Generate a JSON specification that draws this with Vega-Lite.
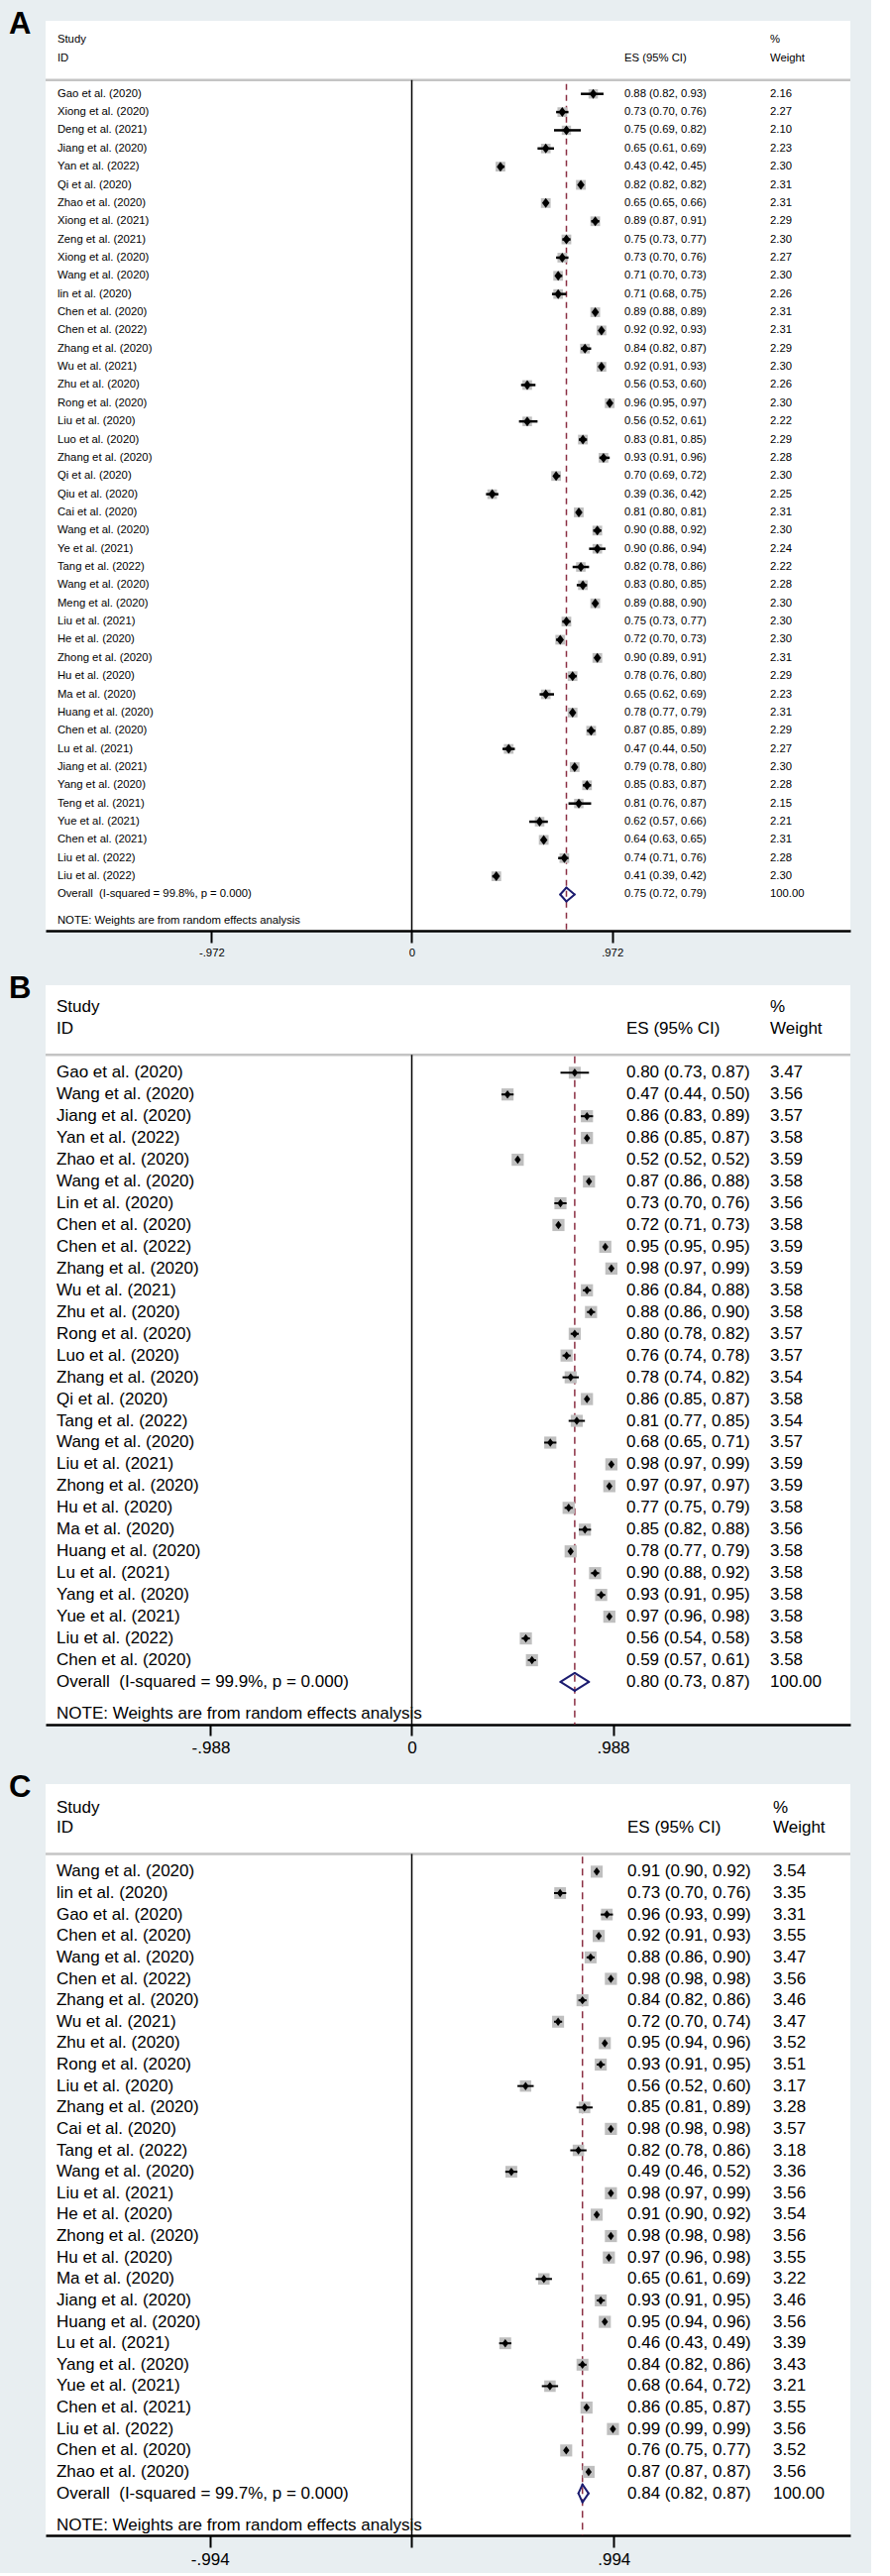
{
  "$schema": "https://vega.github.io/schema/vega-lite/v6.json",
  "background": "#e8eef1",
  "padding": {"left": 9, "top": 9, "right": 19, "bottom": 6},
  "bounds": "flush",
  "spacing": 55,
  "datasets": {
    "A": [
      {"row":0,"kind":"s","study":"Gao et al. (2020)","es":0.88,"lo":0.82,"hi":0.93,"w":2.16,"ci":"0.88 (0.82, 0.93)"},
      {"row":1,"kind":"s","study":"Xiong et al. (2020)","es":0.73,"lo":0.70,"hi":0.76,"w":2.27,"ci":"0.73 (0.70, 0.76)"},
      {"row":2,"kind":"s","study":"Deng et al. (2021)","es":0.75,"lo":0.69,"hi":0.82,"w":2.10,"ci":"0.75 (0.69, 0.82)"},
      {"row":3,"kind":"s","study":"Jiang et al. (2020)","es":0.65,"lo":0.61,"hi":0.69,"w":2.23,"ci":"0.65 (0.61, 0.69)"},
      {"row":4,"kind":"s","study":"Yan et al. (2022)","es":0.43,"lo":0.42,"hi":0.45,"w":2.30,"ci":"0.43 (0.42, 0.45)"},
      {"row":5,"kind":"s","study":"Qi et al. (2020)","es":0.82,"lo":0.82,"hi":0.82,"w":2.31,"ci":"0.82 (0.82, 0.82)"},
      {"row":6,"kind":"s","study":"Zhao et al. (2020)","es":0.65,"lo":0.65,"hi":0.66,"w":2.31,"ci":"0.65 (0.65, 0.66)"},
      {"row":7,"kind":"s","study":"Xiong et al. (2021)","es":0.89,"lo":0.87,"hi":0.91,"w":2.29,"ci":"0.89 (0.87, 0.91)"},
      {"row":8,"kind":"s","study":"Zeng et al. (2021)","es":0.75,"lo":0.73,"hi":0.77,"w":2.30,"ci":"0.75 (0.73, 0.77)"},
      {"row":9,"kind":"s","study":"Xiong et al. (2020)","es":0.73,"lo":0.70,"hi":0.76,"w":2.27,"ci":"0.73 (0.70, 0.76)"},
      {"row":10,"kind":"s","study":"Wang et al. (2020)","es":0.71,"lo":0.70,"hi":0.73,"w":2.30,"ci":"0.71 (0.70, 0.73)"},
      {"row":11,"kind":"s","study":"lin et al. (2020)","es":0.71,"lo":0.68,"hi":0.75,"w":2.26,"ci":"0.71 (0.68, 0.75)"},
      {"row":12,"kind":"s","study":"Chen et al. (2020)","es":0.89,"lo":0.88,"hi":0.89,"w":2.31,"ci":"0.89 (0.88, 0.89)"},
      {"row":13,"kind":"s","study":"Chen et al. (2022)","es":0.92,"lo":0.92,"hi":0.93,"w":2.31,"ci":"0.92 (0.92, 0.93)"},
      {"row":14,"kind":"s","study":"Zhang et al. (2020)","es":0.84,"lo":0.82,"hi":0.87,"w":2.29,"ci":"0.84 (0.82, 0.87)"},
      {"row":15,"kind":"s","study":"Wu et al. (2021)","es":0.92,"lo":0.91,"hi":0.93,"w":2.30,"ci":"0.92 (0.91, 0.93)"},
      {"row":16,"kind":"s","study":"Zhu et al. (2020)","es":0.56,"lo":0.53,"hi":0.60,"w":2.26,"ci":"0.56 (0.53, 0.60)"},
      {"row":17,"kind":"s","study":"Rong et al. (2020)","es":0.96,"lo":0.95,"hi":0.97,"w":2.30,"ci":"0.96 (0.95, 0.97)"},
      {"row":18,"kind":"s","study":"Liu et al. (2020)","es":0.56,"lo":0.52,"hi":0.61,"w":2.22,"ci":"0.56 (0.52, 0.61)"},
      {"row":19,"kind":"s","study":"Luo et al. (2020)","es":0.83,"lo":0.81,"hi":0.85,"w":2.29,"ci":"0.83 (0.81, 0.85)"},
      {"row":20,"kind":"s","study":"Zhang et al. (2020)","es":0.93,"lo":0.91,"hi":0.96,"w":2.28,"ci":"0.93 (0.91, 0.96)"},
      {"row":21,"kind":"s","study":"Qi et al. (2020)","es":0.70,"lo":0.69,"hi":0.72,"w":2.30,"ci":"0.70 (0.69, 0.72)"},
      {"row":22,"kind":"s","study":"Qiu et al. (2020)","es":0.39,"lo":0.36,"hi":0.42,"w":2.25,"ci":"0.39 (0.36, 0.42)"},
      {"row":23,"kind":"s","study":"Cai et al. (2020)","es":0.81,"lo":0.80,"hi":0.81,"w":2.31,"ci":"0.81 (0.80, 0.81)"},
      {"row":24,"kind":"s","study":"Wang et al. (2020)","es":0.90,"lo":0.88,"hi":0.92,"w":2.30,"ci":"0.90 (0.88, 0.92)"},
      {"row":25,"kind":"s","study":"Ye et al. (2021)","es":0.90,"lo":0.86,"hi":0.94,"w":2.24,"ci":"0.90 (0.86, 0.94)"},
      {"row":26,"kind":"s","study":"Tang et al. (2022)","es":0.82,"lo":0.78,"hi":0.86,"w":2.22,"ci":"0.82 (0.78, 0.86)"},
      {"row":27,"kind":"s","study":"Wang et al. (2020)","es":0.83,"lo":0.80,"hi":0.85,"w":2.28,"ci":"0.83 (0.80, 0.85)"},
      {"row":28,"kind":"s","study":"Meng et al. (2020)","es":0.89,"lo":0.88,"hi":0.90,"w":2.30,"ci":"0.89 (0.88, 0.90)"},
      {"row":29,"kind":"s","study":"Liu et al. (2021)","es":0.75,"lo":0.73,"hi":0.77,"w":2.30,"ci":"0.75 (0.73, 0.77)"},
      {"row":30,"kind":"s","study":"He et al. (2020)","es":0.72,"lo":0.70,"hi":0.73,"w":2.30,"ci":"0.72 (0.70, 0.73)"},
      {"row":31,"kind":"s","study":"Zhong et al. (2020)","es":0.90,"lo":0.89,"hi":0.91,"w":2.31,"ci":"0.90 (0.89, 0.91)"},
      {"row":32,"kind":"s","study":"Hu et al. (2020)","es":0.78,"lo":0.76,"hi":0.80,"w":2.29,"ci":"0.78 (0.76, 0.80)"},
      {"row":33,"kind":"s","study":"Ma et al. (2020)","es":0.65,"lo":0.62,"hi":0.69,"w":2.23,"ci":"0.65 (0.62, 0.69)"},
      {"row":34,"kind":"s","study":"Huang et al. (2020)","es":0.78,"lo":0.77,"hi":0.79,"w":2.31,"ci":"0.78 (0.77, 0.79)"},
      {"row":35,"kind":"s","study":"Chen et al. (2020)","es":0.87,"lo":0.85,"hi":0.89,"w":2.29,"ci":"0.87 (0.85, 0.89)"},
      {"row":36,"kind":"s","study":"Lu et al. (2021)","es":0.47,"lo":0.44,"hi":0.50,"w":2.27,"ci":"0.47 (0.44, 0.50)"},
      {"row":37,"kind":"s","study":"Jiang et al. (2021)","es":0.79,"lo":0.78,"hi":0.80,"w":2.30,"ci":"0.79 (0.78, 0.80)"},
      {"row":38,"kind":"s","study":"Yang et al. (2020)","es":0.85,"lo":0.83,"hi":0.87,"w":2.28,"ci":"0.85 (0.83, 0.87)"},
      {"row":39,"kind":"s","study":"Teng et al. (2021)","es":0.81,"lo":0.76,"hi":0.87,"w":2.15,"ci":"0.81 (0.76, 0.87)"},
      {"row":40,"kind":"s","study":"Yue et al. (2021)","es":0.62,"lo":0.57,"hi":0.66,"w":2.21,"ci":"0.62 (0.57, 0.66)"},
      {"row":41,"kind":"s","study":"Chen et al. (2021)","es":0.64,"lo":0.63,"hi":0.65,"w":2.31,"ci":"0.64 (0.63, 0.65)"},
      {"row":42,"kind":"s","study":"Liu et al. (2022)","es":0.74,"lo":0.71,"hi":0.76,"w":2.28,"ci":"0.74 (0.71, 0.76)"},
      {"row":43,"kind":"s","study":"Liu et al. (2022)","es":0.41,"lo":0.39,"hi":0.42,"w":2.30,"ci":"0.41 (0.39, 0.42)"},
      {"row":44,"kind":"o","study":"Overall\u00a0 (I-squared = 99.8%, p = 0.000)","es":0.75,"lo":0.72,"hi":0.79,"w":100,"ci":"0.75 (0.72, 0.79)"}
    ],
    "B": [
      {"row":0,"kind":"s","study":"Gao et al. (2020)","es":0.80,"lo":0.73,"hi":0.87,"w":3.47,"ci":"0.80 (0.73, 0.87)"},
      {"row":1,"kind":"s","study":"Wang et al. (2020)","es":0.47,"lo":0.44,"hi":0.50,"w":3.56,"ci":"0.47 (0.44, 0.50)"},
      {"row":2,"kind":"s","study":"Jiang et al. (2020)","es":0.86,"lo":0.83,"hi":0.89,"w":3.57,"ci":"0.86 (0.83, 0.89)"},
      {"row":3,"kind":"s","study":"Yan et al. (2022)","es":0.86,"lo":0.85,"hi":0.87,"w":3.58,"ci":"0.86 (0.85, 0.87)"},
      {"row":4,"kind":"s","study":"Zhao et al. (2020)","es":0.52,"lo":0.52,"hi":0.52,"w":3.59,"ci":"0.52 (0.52, 0.52)"},
      {"row":5,"kind":"s","study":"Wang et al. (2020)","es":0.87,"lo":0.86,"hi":0.88,"w":3.58,"ci":"0.87 (0.86, 0.88)"},
      {"row":6,"kind":"s","study":"Lin et al. (2020)","es":0.73,"lo":0.70,"hi":0.76,"w":3.56,"ci":"0.73 (0.70, 0.76)"},
      {"row":7,"kind":"s","study":"Chen et al. (2020)","es":0.72,"lo":0.71,"hi":0.73,"w":3.58,"ci":"0.72 (0.71, 0.73)"},
      {"row":8,"kind":"s","study":"Chen et al. (2022)","es":0.95,"lo":0.95,"hi":0.95,"w":3.59,"ci":"0.95 (0.95, 0.95)"},
      {"row":9,"kind":"s","study":"Zhang et al. (2020)","es":0.98,"lo":0.97,"hi":0.99,"w":3.59,"ci":"0.98 (0.97, 0.99)"},
      {"row":10,"kind":"s","study":"Wu et al. (2021)","es":0.86,"lo":0.84,"hi":0.88,"w":3.58,"ci":"0.86 (0.84, 0.88)"},
      {"row":11,"kind":"s","study":"Zhu et al. (2020)","es":0.88,"lo":0.86,"hi":0.90,"w":3.58,"ci":"0.88 (0.86, 0.90)"},
      {"row":12,"kind":"s","study":"Rong et al. (2020)","es":0.80,"lo":0.78,"hi":0.82,"w":3.57,"ci":"0.80 (0.78, 0.82)"},
      {"row":13,"kind":"s","study":"Luo et al. (2020)","es":0.76,"lo":0.74,"hi":0.78,"w":3.57,"ci":"0.76 (0.74, 0.78)"},
      {"row":14,"kind":"s","study":"Zhang et al. (2020)","es":0.78,"lo":0.74,"hi":0.82,"w":3.54,"ci":"0.78 (0.74, 0.82)"},
      {"row":15,"kind":"s","study":"Qi et al. (2020)","es":0.86,"lo":0.85,"hi":0.87,"w":3.58,"ci":"0.86 (0.85, 0.87)"},
      {"row":16,"kind":"s","study":"Tang et al. (2022)","es":0.81,"lo":0.77,"hi":0.85,"w":3.54,"ci":"0.81 (0.77, 0.85)"},
      {"row":17,"kind":"s","study":"Wang et al. (2020)","es":0.68,"lo":0.65,"hi":0.71,"w":3.57,"ci":"0.68 (0.65, 0.71)"},
      {"row":18,"kind":"s","study":"Liu et al. (2021)","es":0.98,"lo":0.97,"hi":0.99,"w":3.59,"ci":"0.98 (0.97, 0.99)"},
      {"row":19,"kind":"s","study":"Zhong et al. (2020)","es":0.97,"lo":0.97,"hi":0.97,"w":3.59,"ci":"0.97 (0.97, 0.97)"},
      {"row":20,"kind":"s","study":"Hu et al. (2020)","es":0.77,"lo":0.75,"hi":0.79,"w":3.58,"ci":"0.77 (0.75, 0.79)"},
      {"row":21,"kind":"s","study":"Ma et al. (2020)","es":0.85,"lo":0.82,"hi":0.88,"w":3.56,"ci":"0.85 (0.82, 0.88)"},
      {"row":22,"kind":"s","study":"Huang et al. (2020)","es":0.78,"lo":0.77,"hi":0.79,"w":3.58,"ci":"0.78 (0.77, 0.79)"},
      {"row":23,"kind":"s","study":"Lu et al. (2021)","es":0.90,"lo":0.88,"hi":0.92,"w":3.58,"ci":"0.90 (0.88, 0.92)"},
      {"row":24,"kind":"s","study":"Yang et al. (2020)","es":0.93,"lo":0.91,"hi":0.95,"w":3.58,"ci":"0.93 (0.91, 0.95)"},
      {"row":25,"kind":"s","study":"Yue et al. (2021)","es":0.97,"lo":0.96,"hi":0.98,"w":3.58,"ci":"0.97 (0.96, 0.98)"},
      {"row":26,"kind":"s","study":"Liu et al. (2022)","es":0.56,"lo":0.54,"hi":0.58,"w":3.58,"ci":"0.56 (0.54, 0.58)"},
      {"row":27,"kind":"s","study":"Chen et al. (2020)","es":0.59,"lo":0.57,"hi":0.61,"w":3.58,"ci":"0.59 (0.57, 0.61)"},
      {"row":28,"kind":"o","study":"Overall\u00a0 (I-squared = 99.9%, p = 0.000)","es":0.80,"lo":0.73,"hi":0.87,"w":100,"ci":"0.80 (0.73, 0.87)"}
    ],
    "C": [
      {"row":0,"kind":"s","study":"Wang et al. (2020)","es":0.91,"lo":0.90,"hi":0.92,"w":3.54,"ci":"0.91 (0.90, 0.92)"},
      {"row":1,"kind":"s","study":"lin et al. (2020)","es":0.73,"lo":0.70,"hi":0.76,"w":3.35,"ci":"0.73 (0.70, 0.76)"},
      {"row":2,"kind":"s","study":"Gao et al. (2020)","es":0.96,"lo":0.93,"hi":0.99,"w":3.31,"ci":"0.96 (0.93, 0.99)"},
      {"row":3,"kind":"s","study":"Chen et al. (2020)","es":0.92,"lo":0.91,"hi":0.93,"w":3.55,"ci":"0.92 (0.91, 0.93)"},
      {"row":4,"kind":"s","study":"Wang et al. (2020)","es":0.88,"lo":0.86,"hi":0.90,"w":3.47,"ci":"0.88 (0.86, 0.90)"},
      {"row":5,"kind":"s","study":"Chen et al. (2022)","es":0.98,"lo":0.98,"hi":0.98,"w":3.56,"ci":"0.98 (0.98, 0.98)"},
      {"row":6,"kind":"s","study":"Zhang et al. (2020)","es":0.84,"lo":0.82,"hi":0.86,"w":3.46,"ci":"0.84 (0.82, 0.86)"},
      {"row":7,"kind":"s","study":"Wu et al. (2021)","es":0.72,"lo":0.70,"hi":0.74,"w":3.47,"ci":"0.72 (0.70, 0.74)"},
      {"row":8,"kind":"s","study":"Zhu et al. (2020)","es":0.95,"lo":0.94,"hi":0.96,"w":3.52,"ci":"0.95 (0.94, 0.96)"},
      {"row":9,"kind":"s","study":"Rong et al. (2020)","es":0.93,"lo":0.91,"hi":0.95,"w":3.51,"ci":"0.93 (0.91, 0.95)"},
      {"row":10,"kind":"s","study":"Liu et al. (2020)","es":0.56,"lo":0.52,"hi":0.60,"w":3.17,"ci":"0.56 (0.52, 0.60)"},
      {"row":11,"kind":"s","study":"Zhang et al. (2020)","es":0.85,"lo":0.81,"hi":0.89,"w":3.28,"ci":"0.85 (0.81, 0.89)"},
      {"row":12,"kind":"s","study":"Cai et al. (2020)","es":0.98,"lo":0.98,"hi":0.98,"w":3.57,"ci":"0.98 (0.98, 0.98)"},
      {"row":13,"kind":"s","study":"Tang et al. (2022)","es":0.82,"lo":0.78,"hi":0.86,"w":3.18,"ci":"0.82 (0.78, 0.86)"},
      {"row":14,"kind":"s","study":"Wang et al. (2020)","es":0.49,"lo":0.46,"hi":0.52,"w":3.36,"ci":"0.49 (0.46, 0.52)"},
      {"row":15,"kind":"s","study":"Liu et al. (2021)","es":0.98,"lo":0.97,"hi":0.99,"w":3.56,"ci":"0.98 (0.97, 0.99)"},
      {"row":16,"kind":"s","study":"He et al. (2020)","es":0.91,"lo":0.90,"hi":0.92,"w":3.54,"ci":"0.91 (0.90, 0.92)"},
      {"row":17,"kind":"s","study":"Zhong et al. (2020)","es":0.98,"lo":0.98,"hi":0.98,"w":3.56,"ci":"0.98 (0.98, 0.98)"},
      {"row":18,"kind":"s","study":"Hu et al. (2020)","es":0.97,"lo":0.96,"hi":0.98,"w":3.55,"ci":"0.97 (0.96, 0.98)"},
      {"row":19,"kind":"s","study":"Ma et al. (2020)","es":0.65,"lo":0.61,"hi":0.69,"w":3.22,"ci":"0.65 (0.61, 0.69)"},
      {"row":20,"kind":"s","study":"Jiang et al. (2020)","es":0.93,"lo":0.91,"hi":0.95,"w":3.46,"ci":"0.93 (0.91, 0.95)"},
      {"row":21,"kind":"s","study":"Huang et al. (2020)","es":0.95,"lo":0.94,"hi":0.96,"w":3.56,"ci":"0.95 (0.94, 0.96)"},
      {"row":22,"kind":"s","study":"Lu et al. (2021)","es":0.46,"lo":0.43,"hi":0.49,"w":3.39,"ci":"0.46 (0.43, 0.49)"},
      {"row":23,"kind":"s","study":"Yang et al. (2020)","es":0.84,"lo":0.82,"hi":0.86,"w":3.43,"ci":"0.84 (0.82, 0.86)"},
      {"row":24,"kind":"s","study":"Yue et al. (2021)","es":0.68,"lo":0.64,"hi":0.72,"w":3.21,"ci":"0.68 (0.64, 0.72)"},
      {"row":25,"kind":"s","study":"Chen et al. (2021)","es":0.86,"lo":0.85,"hi":0.87,"w":3.55,"ci":"0.86 (0.85, 0.87)"},
      {"row":26,"kind":"s","study":"Liu et al. (2022)","es":0.99,"lo":0.99,"hi":0.99,"w":3.56,"ci":"0.99 (0.99, 0.99)"},
      {"row":27,"kind":"s","study":"Chen et al. (2020)","es":0.76,"lo":0.75,"hi":0.77,"w":3.52,"ci":"0.76 (0.75, 0.77)"},
      {"row":28,"kind":"s","study":"Zhao et al. (2020)","es":0.87,"lo":0.87,"hi":0.87,"w":3.56,"ci":"0.87 (0.87, 0.87)"},
      {"row":29,"kind":"o","study":"Overall\u00a0 (I-squared = 99.7%, p = 0.000)","es":0.84,"lo":0.82,"hi":0.87,"w":100,"ci":"0.84 (0.82, 0.87)"}
    ]
  },
  "vconcat": [
    {
      "width": 812, "height": 918,
      "title": {"text": "A", "anchor": "start", "frame": "group", "baseline": "top", "dx": -37, "dy": 20, "offset": 0, "fontSize": 31, "fontWeight": "bold", "color": "black"},
      "data": {"name": "A"},
      "layer": [
        {"data": {"values": [{}]}, "mark": {"type": "rule", "color": "#c4c4c4", "strokeWidth": 2.5},
         "encoding": {"y": {"datum": -0.763, "type": "quantitative", "scale": {"domain": [-4.016, 45.99], "reverse": true, "nice": false, "zero": false}, "axis": null}}},
        {"data": {"values": [{}]}, "mark": {"type": "rule", "color": "black", "strokeWidth": 1.5},
         "encoding": {"x": {"datum": 0, "type": "quantitative", "scale": {"domain": [-1.7764, 2.1274], "nice": false, "zero": false},
            "axis": {"values": [-0.972, 0, 0.972], "labelExpr": "datum.value < 0 ? '-.972' : (datum.value > 0 ? '.972' : '0')", "title": null, "grid": false, "domainColor": "black", "domainWidth": 2.5, "tickColor": "black", "tickWidth": 2, "tickSize": 12, "labelFontSize": 11.3, "labelColor": "black", "labelPadding": 4, "labelFlush": false, "labelOverlap": false}},
           "y": {"datum": -0.763, "axis": null}, "y2": {"datum": 45.99}}},
        {"transform": [{"filter": "datum.kind == 'o'"}], "mark": {"type": "rule", "color": "#8b2f43", "strokeWidth": 1.5, "strokeDash": [6, 5]},
         "encoding": {"x": {"field": "es", "type": "quantitative"}, "y": {"datum": -0.55, "axis": null}, "y2": {"datum": 45.99}}},
        {"transform": [{"filter": "datum.kind == 's'"}], "mark": {"type": "point", "shape": "square", "filled": true, "color": "#bfbfbf", "opacity": 1},
         "encoding": {"x": {"field": "es", "type": "quantitative"}, "y": {"field": "row", "type": "quantitative", "axis": null},
           "size": {"field": "w", "type": "quantitative", "scale": {"domain": [0, 2.31], "range": [0, 150]}, "legend": null}}},
        {"transform": [{"filter": "datum.kind == 's'"}], "mark": {"type": "rule", "color": "black", "strokeWidth": 2.5},
         "encoding": {"x": {"field": "lo", "type": "quantitative"}, "x2": {"field": "hi"}, "y": {"field": "row", "type": "quantitative", "axis": null}}},
        {"transform": [{"filter": "datum.kind == 's'"}], "mark": {"type": "point", "shape": "M-0.75,0L0,-1L0.75,0L0,1Z", "filled": true, "color": "black", "opacity": 1, "size": 100},
         "encoding": {"x": {"field": "es", "type": "quantitative"}, "y": {"field": "row", "type": "quantitative", "axis": null}}},
        {"transform": [{"filter": "datum.kind == 'o'"}], "mark": {"type": "rule", "color": "#1c1c70", "strokeWidth": 2, "strokeCap": "round", "y2Offset": -7},
         "encoding": {"x": {"field": "lo", "type": "quantitative"}, "x2": {"field": "es"}, "y": {"field": "row", "type": "quantitative", "axis": null}, "y2": {"field": "row"}}},
        {"transform": [{"filter": "datum.kind == 'o'"}], "mark": {"type": "rule", "color": "#1c1c70", "strokeWidth": 2, "strokeCap": "round", "y2Offset": 7},
         "encoding": {"x": {"field": "lo", "type": "quantitative"}, "x2": {"field": "es"}, "y": {"field": "row", "type": "quantitative", "axis": null}, "y2": {"field": "row"}}},
        {"transform": [{"filter": "datum.kind == 'o'"}], "mark": {"type": "rule", "color": "#1c1c70", "strokeWidth": 2, "strokeCap": "round", "yOffset": -7},
         "encoding": {"x": {"field": "es", "type": "quantitative"}, "x2": {"field": "hi"}, "y": {"field": "row", "type": "quantitative", "axis": null}, "y2": {"field": "row"}}},
        {"transform": [{"filter": "datum.kind == 'o'"}], "mark": {"type": "rule", "color": "#1c1c70", "strokeWidth": 2, "strokeCap": "round", "yOffset": 7},
         "encoding": {"x": {"field": "es", "type": "quantitative"}, "x2": {"field": "hi"}, "y": {"field": "row", "type": "quantitative", "axis": null}, "y2": {"field": "row"}}},
        {"mark": {"type": "text", "align": "left", "baseline": "middle", "fontSize": 11.3},
         "encoding": {"x": {"datum": -1.719}, "y": {"field": "row", "type": "quantitative", "axis": null}, "text": {"field": "study"}}},
        {"mark": {"type": "text", "align": "left", "baseline": "middle", "fontSize": 11.3},
         "encoding": {"x": {"datum": 1.031}, "y": {"field": "row", "type": "quantitative", "axis": null}, "text": {"field": "ci"}}},
        {"mark": {"type": "text", "align": "left", "baseline": "middle", "fontSize": 11.3},
         "encoding": {"x": {"datum": 1.738}, "y": {"field": "row", "type": "quantitative", "axis": null}, "text": {"field": "w", "type": "quantitative", "format": ".2f"}}},
        {"data": {"values": [{}]}, "mark": {"type": "text", "text": "Study", "align": "left", "baseline": "middle", "fontSize": 11.3},
         "encoding": {"x": {"datum": -1.719}, "y": {"datum": -3.0, "axis": null}}},
        {"data": {"values": [{}]}, "mark": {"type": "text", "text": "ID", "align": "left", "baseline": "middle", "fontSize": 11.3},
         "encoding": {"x": {"datum": -1.719}, "y": {"datum": -1.96, "axis": null}}},
        {"data": {"values": [{}]}, "mark": {"type": "text", "text": "ES (95% CI)", "align": "left", "baseline": "middle", "fontSize": 11.3},
         "encoding": {"x": {"datum": 1.031}, "y": {"datum": -1.96, "axis": null}}},
        {"data": {"values": [{}]}, "mark": {"type": "text", "text": "%", "align": "left", "baseline": "middle", "fontSize": 11.3},
         "encoding": {"x": {"datum": 1.738}, "y": {"datum": -3.0, "axis": null}}},
        {"data": {"values": [{}]}, "mark": {"type": "text", "text": "Weight", "align": "left", "baseline": "middle", "fontSize": 11.3},
         "encoding": {"x": {"datum": 1.738}, "y": {"datum": -1.96, "axis": null}}},
        {"data": {"values": [{}]}, "mark": {"type": "text", "text": "NOTE: Weights are from random effects analysis", "align": "left", "baseline": "middle", "fontSize": 11.3},
         "encoding": {"x": {"datum": -1.719}, "y": {"datum": 45.47, "axis": null}}}
      ]
    },
    {
      "bounds": "flush",
      "spacing": 60,
      "vconcat": [
        {
          "width": 812, "height": 746,
          "title": {"text": "B", "anchor": "start", "frame": "group", "baseline": "top", "dx": -37, "dy": 20, "offset": 0, "fontSize": 31, "fontWeight": "bold", "color": "black"},
          "data": {"name": "B"},
          "layer": [
            {"data": {"values": [{}]}, "mark": {"type": "rule", "color": "#c4c4c4", "strokeWidth": 2.5},
             "encoding": {"y": {"datum": -0.82, "type": "quantitative", "scale": {"domain": [-4.021, 29.96], "reverse": true, "nice": false, "zero": false}, "axis": null}}},
            {"data": {"values": [{}]}, "mark": {"type": "rule", "color": "black", "strokeWidth": 1.5},
             "encoding": {"x": {"datum": 0, "type": "quantitative", "scale": {"domain": [-1.798, 2.1533], "nice": false, "zero": false},
                "axis": {"values": [-0.988, 0, 0.988], "labelExpr": "datum.value < 0 ? '-.988' : (datum.value > 0 ? '.988' : '0')", "title": null, "grid": false, "domainColor": "black", "domainWidth": 2.5, "tickColor": "black", "tickWidth": 2, "tickSize": 11, "labelFontSize": 17, "labelColor": "black", "labelPadding": 4, "labelFlush": false, "labelOverlap": false}},
               "y": {"datum": -0.82, "axis": null}, "y2": {"datum": 29.96}}},
            {"transform": [{"filter": "datum.kind == 'o'"}], "mark": {"type": "rule", "color": "#8b2f43", "strokeWidth": 1.5, "strokeDash": [7, 5]},
             "encoding": {"x": {"field": "es", "type": "quantitative"}, "y": {"datum": -0.75, "axis": null}, "y2": {"datum": 29.96}}},
            {"transform": [{"filter": "datum.kind == 's'"}], "mark": {"type": "point", "shape": "square", "filled": true, "color": "#bfbfbf", "opacity": 1},
             "encoding": {"x": {"field": "es", "type": "quantitative"}, "y": {"field": "row", "type": "quantitative", "axis": null},
               "size": {"field": "w", "type": "quantitative", "scale": {"domain": [0, 3.59], "range": [0, 130]}, "legend": null}}},
            {"transform": [{"filter": "datum.kind == 's'"}], "mark": {"type": "rule", "color": "black", "strokeWidth": 2},
             "encoding": {"x": {"field": "lo", "type": "quantitative"}, "x2": {"field": "hi"}, "y": {"field": "row", "type": "quantitative", "axis": null}}},
            {"transform": [{"filter": "datum.kind == 's'"}], "mark": {"type": "point", "shape": "M-0.75,0L0,-1L0.75,0L0,1Z", "filled": true, "color": "black", "opacity": 1, "size": 72},
             "encoding": {"x": {"field": "es", "type": "quantitative"}, "y": {"field": "row", "type": "quantitative", "axis": null}}},
            {"transform": [{"filter": "datum.kind == 'o'"}], "mark": {"type": "rule", "color": "#1c1c70", "strokeWidth": 2, "strokeCap": "round", "y2Offset": -9},
             "encoding": {"x": {"field": "lo", "type": "quantitative"}, "x2": {"field": "es"}, "y": {"field": "row", "type": "quantitative", "axis": null}, "y2": {"field": "row"}}},
            {"transform": [{"filter": "datum.kind == 'o'"}], "mark": {"type": "rule", "color": "#1c1c70", "strokeWidth": 2, "strokeCap": "round", "y2Offset": 9},
             "encoding": {"x": {"field": "lo", "type": "quantitative"}, "x2": {"field": "es"}, "y": {"field": "row", "type": "quantitative", "axis": null}, "y2": {"field": "row"}}},
            {"transform": [{"filter": "datum.kind == 'o'"}], "mark": {"type": "rule", "color": "#1c1c70", "strokeWidth": 2, "strokeCap": "round", "yOffset": -9},
             "encoding": {"x": {"field": "es", "type": "quantitative"}, "x2": {"field": "hi"}, "y": {"field": "row", "type": "quantitative", "axis": null}, "y2": {"field": "row"}}},
            {"transform": [{"filter": "datum.kind == 'o'"}], "mark": {"type": "rule", "color": "#1c1c70", "strokeWidth": 2, "strokeCap": "round", "yOffset": 9},
             "encoding": {"x": {"field": "es", "type": "quantitative"}, "x2": {"field": "hi"}, "y": {"field": "row", "type": "quantitative", "axis": null}, "y2": {"field": "row"}}},
            {"mark": {"type": "text", "align": "left", "baseline": "middle", "fontSize": 17},
             "encoding": {"x": {"datum": -1.7445}, "y": {"field": "row", "type": "quantitative", "axis": null}, "text": {"field": "study"}}},
            {"mark": {"type": "text", "align": "left", "baseline": "middle", "fontSize": 17},
             "encoding": {"x": {"datum": 1.0535}, "y": {"field": "row", "type": "quantitative", "axis": null}, "text": {"field": "ci"}}},
            {"mark": {"type": "text", "align": "left", "baseline": "middle", "fontSize": 17},
             "encoding": {"x": {"datum": 1.759}, "y": {"field": "row", "type": "quantitative", "axis": null}, "text": {"field": "w", "type": "quantitative", "format": ".2f"}}},
            {"data": {"values": [{}]}, "mark": {"type": "text", "text": "Study", "align": "left", "baseline": "middle", "fontSize": 17},
             "encoding": {"x": {"datum": -1.7445}, "y": {"datum": -3.005, "axis": null}}},
            {"data": {"values": [{}]}, "mark": {"type": "text", "text": "ID", "align": "left", "baseline": "middle", "fontSize": 17},
             "encoding": {"x": {"datum": -1.7445}, "y": {"datum": -2.0, "axis": null}}},
            {"data": {"values": [{}]}, "mark": {"type": "text", "text": "ES (95% CI)", "align": "left", "baseline": "middle", "fontSize": 17},
             "encoding": {"x": {"datum": 1.0535}, "y": {"datum": -2.0, "axis": null}}},
            {"data": {"values": [{}]}, "mark": {"type": "text", "text": "%", "align": "left", "baseline": "middle", "fontSize": 17},
             "encoding": {"x": {"datum": 1.759}, "y": {"datum": -3.005, "axis": null}}},
            {"data": {"values": [{}]}, "mark": {"type": "text", "text": "Weight", "align": "left", "baseline": "middle", "fontSize": 17},
             "encoding": {"x": {"datum": 1.759}, "y": {"datum": -2.0, "axis": null}}},
            {"data": {"values": [{}]}, "mark": {"type": "text", "text": "NOTE: Weights are from random effects analysis", "align": "left", "baseline": "middle", "fontSize": 17},
             "encoding": {"x": {"datum": -1.7445}, "y": {"datum": 29.45, "axis": null}}}
          ]
        },
        {
          "width": 812, "height": 758,
          "title": {"text": "C", "anchor": "start", "frame": "group", "baseline": "top", "dx": -37, "dy": 20, "offset": 0, "fontSize": 31, "fontWeight": "bold", "color": "black"},
          "data": {"name": "C"},
          "layer": [
            {"data": {"values": [{}]}, "mark": {"type": "rule", "color": "#c4c4c4", "strokeWidth": 2.5},
             "encoding": {"y": {"datum": -0.82, "type": "quantitative", "scale": {"domain": [-4.085, 30.96], "reverse": true, "nice": false, "zero": false}, "axis": null}}},
            {"data": {"values": [{}]}, "mark": {"type": "rule", "color": "black", "strokeWidth": 1.5},
             "encoding": {"x": {"datum": 0, "type": "quantitative", "scale": {"domain": [-1.8024, 2.1585], "nice": false, "zero": false},
                "axis": {"values": [-0.994, 0, 0.994], "labelExpr": "datum.value < 0 ? '-.994' : (datum.value > 0 ? '.994' : '')", "title": null, "grid": false, "domainColor": "black", "domainWidth": 2.5, "tickColor": "black", "tickWidth": 2, "tickSize": 12, "labelFontSize": 17, "labelColor": "black", "labelPadding": 4, "labelFlush": false, "labelOverlap": false}},
               "y": {"datum": -0.82, "axis": null}, "y2": {"datum": 30.96}}},
            {"transform": [{"filter": "datum.kind == 'o'"}], "mark": {"type": "rule", "color": "#8b2f43", "strokeWidth": 1.5, "strokeDash": [7, 5]},
             "encoding": {"x": {"field": "es", "type": "quantitative"}, "y": {"datum": -0.7, "axis": null}, "y2": {"datum": 30.96}}},
            {"transform": [{"filter": "datum.kind == 's'"}], "mark": {"type": "point", "shape": "square", "filled": true, "color": "#bfbfbf", "opacity": 1},
             "encoding": {"x": {"field": "es", "type": "quantitative"}, "y": {"field": "row", "type": "quantitative", "axis": null},
               "size": {"field": "w", "type": "quantitative", "scale": {"domain": [0, 3.57], "range": [0, 140]}, "legend": null}}},
            {"transform": [{"filter": "datum.kind == 's'"}], "mark": {"type": "rule", "color": "black", "strokeWidth": 2},
             "encoding": {"x": {"field": "lo", "type": "quantitative"}, "x2": {"field": "hi"}, "y": {"field": "row", "type": "quantitative", "axis": null}}},
            {"transform": [{"filter": "datum.kind == 's'"}], "mark": {"type": "point", "shape": "M-0.75,0L0,-1L0.75,0L0,1Z", "filled": true, "color": "black", "opacity": 1, "size": 72},
             "encoding": {"x": {"field": "es", "type": "quantitative"}, "y": {"field": "row", "type": "quantitative", "axis": null}}},
            {"transform": [{"filter": "datum.kind == 'o'"}], "mark": {"type": "rule", "color": "#1c1c70", "strokeWidth": 2, "strokeCap": "round", "y2Offset": -9},
             "encoding": {"x": {"field": "lo", "type": "quantitative"}, "x2": {"field": "es"}, "y": {"field": "row", "type": "quantitative", "axis": null}, "y2": {"field": "row"}}},
            {"transform": [{"filter": "datum.kind == 'o'"}], "mark": {"type": "rule", "color": "#1c1c70", "strokeWidth": 2, "strokeCap": "round", "y2Offset": 9},
             "encoding": {"x": {"field": "lo", "type": "quantitative"}, "x2": {"field": "es"}, "y": {"field": "row", "type": "quantitative", "axis": null}, "y2": {"field": "row"}}},
            {"transform": [{"filter": "datum.kind == 'o'"}], "mark": {"type": "rule", "color": "#1c1c70", "strokeWidth": 2, "strokeCap": "round", "yOffset": -9},
             "encoding": {"x": {"field": "es", "type": "quantitative"}, "x2": {"field": "hi"}, "y": {"field": "row", "type": "quantitative", "axis": null}, "y2": {"field": "row"}}},
            {"transform": [{"filter": "datum.kind == 'o'"}], "mark": {"type": "rule", "color": "#1c1c70", "strokeWidth": 2, "strokeCap": "round", "yOffset": 9},
             "encoding": {"x": {"field": "es", "type": "quantitative"}, "x2": {"field": "hi"}, "y": {"field": "row", "type": "quantitative", "axis": null}, "y2": {"field": "row"}}},
            {"mark": {"type": "text", "align": "left", "baseline": "middle", "fontSize": 17},
             "encoding": {"x": {"datum": -1.749}, "y": {"field": "row", "type": "quantitative", "axis": null}, "text": {"field": "study"}}},
            {"mark": {"type": "text", "align": "left", "baseline": "middle", "fontSize": 17},
             "encoding": {"x": {"datum": 1.061}, "y": {"field": "row", "type": "quantitative", "axis": null}, "text": {"field": "ci"}}},
            {"mark": {"type": "text", "align": "left", "baseline": "middle", "fontSize": 17},
             "encoding": {"x": {"datum": 1.778}, "y": {"field": "row", "type": "quantitative", "axis": null}, "text": {"field": "w", "type": "quantitative", "format": ".2f"}}},
            {"data": {"values": [{}]}, "mark": {"type": "text", "text": "Study", "align": "left", "baseline": "middle", "fontSize": 17},
             "encoding": {"x": {"datum": -1.749}, "y": {"datum": -2.99, "axis": null}}},
            {"data": {"values": [{}]}, "mark": {"type": "text", "text": "ID", "align": "left", "baseline": "middle", "fontSize": 17},
             "encoding": {"x": {"datum": -1.749}, "y": {"datum": -2.07, "axis": null}}},
            {"data": {"values": [{}]}, "mark": {"type": "text", "text": "ES (95% CI)", "align": "left", "baseline": "middle", "fontSize": 17},
             "encoding": {"x": {"datum": 1.061}, "y": {"datum": -2.07, "axis": null}}},
            {"data": {"values": [{}]}, "mark": {"type": "text", "text": "%", "align": "left", "baseline": "middle", "fontSize": 17},
             "encoding": {"x": {"datum": 1.778}, "y": {"datum": -2.99, "axis": null}}},
            {"data": {"values": [{}]}, "mark": {"type": "text", "text": "Weight", "align": "left", "baseline": "middle", "fontSize": 17},
             "encoding": {"x": {"datum": 1.778}, "y": {"datum": -2.07, "axis": null}}},
            {"data": {"values": [{}]}, "mark": {"type": "text", "text": "NOTE: Weights are from random effects analysis", "align": "left", "baseline": "middle", "fontSize": 17},
             "encoding": {"x": {"datum": -1.749}, "y": {"datum": 30.5, "axis": null}}}
          ]
        }
      ]
    }
  ],
  "config": {
    "font": "Liberation Sans",
    "view": {"stroke": null, "fill": "white"},
    "text": {"color": "black"},
    "axis": {"grid": false}
  }
}
